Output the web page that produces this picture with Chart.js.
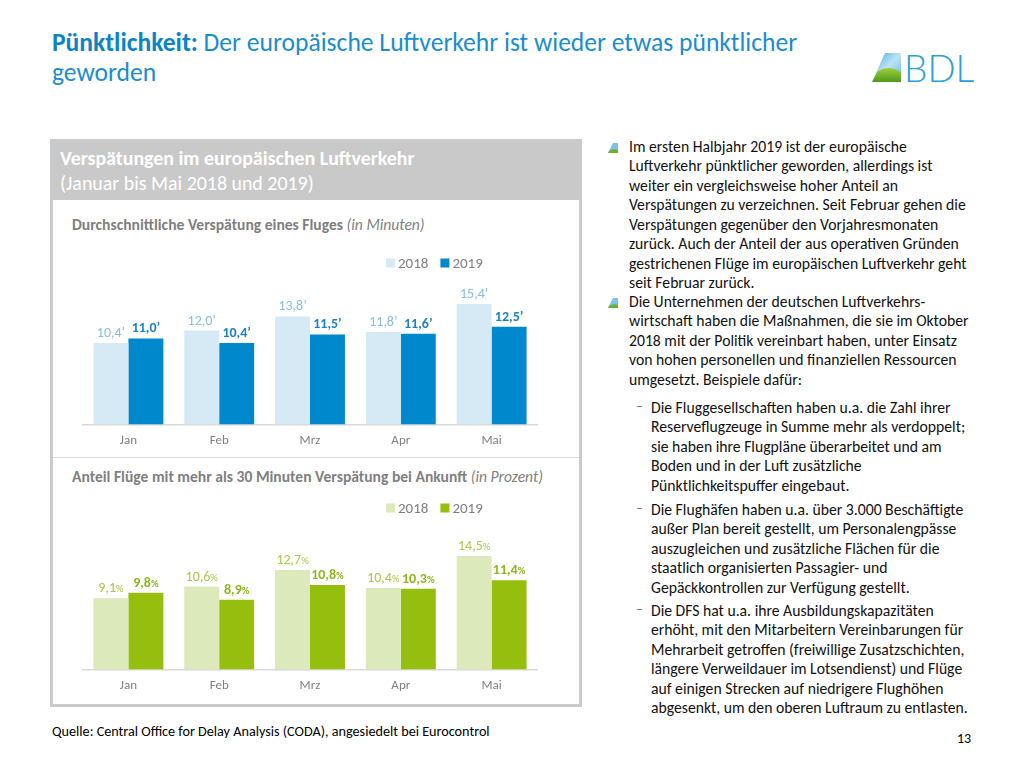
<!DOCTYPE html>
<html lang="de">
<head>
<meta charset="utf-8">
<title>Pünktlichkeit</title>
<script src="https://cdn.jsdelivr.net/npm/chart.js@4/dist/chart.umd.min.js"></script>
<style>
    body { margin: 0; background: #fff; }
    #seite { position: relative; width: 1024px; height: 768px; overflow: hidden; font-family: Carlito, Calibri, Lato, "Open Sans", sans-serif; }
    .abs { position: absolute; }
    #titel { left: 52px; top: 28px; font-size: 25.6px; line-height: 30px; color: #1a8dcf; white-space: nowrap; }
    #titel b { color: #0b84c6; }
    #logo { left: 868px; top: 44px; }
    #box { left: 50px; top: 139px; width: 526px; height: 562px; border: 3px solid #cacaca; background: #fff; }
    #kopf { left: 0; top: 0; width: 526px; height: 58px; background: #c9c9c9; color: #fff; font-size: 19.9px; line-height: 25px; padding: 4px 0 0 7px; box-sizing: border-box; white-space: nowrap; }
    #trenn { left: 0; top: 315px; width: 526px; height: 1px; background: #d9d9d9; }
    .ctitel { font-size: 15.6px; color: #7f7f7f; font-weight: bold; white-space: nowrap; }
    .ctitel i { font-weight: normal; }
    canvas { position: absolute; }
    .text { left: 629px; font-size: 15.7px; line-height: 19.45px; color: #111; white-space: nowrap; }
    .sub { left: 651px; }
    .icon { left: 607px; }
    .strich { left: 636px; color: #6f6f6f; font-size: 14px; }
    #quelle { left: 52px; top: 722px; font-size: 14.2px; color: #000; white-space: nowrap; }
    #nr { left: 957px; top: 730px; font-size: 14px; color: #000; }
</style>
</head>
<body>
<div id="seite">

    <div id="titel" class="abs"><b>Pünktlichkeit:</b> Der europäische Luftverkehr ist wieder etwas pünktlicher<br>geworden</div>

    <svg id="logo" class="abs" width="110" height="44" viewBox="0 0 110 44">
        <defs>
            <linearGradient id="himmel" x1="0" y1="0" x2="1" y2="1">
                <stop offset="0" stop-color="#3aa6de"/>
                <stop offset="0.5" stop-color="#bfe2f4"/>
                <stop offset="1" stop-color="#5ab8e6"/>
            </linearGradient>
            <linearGradient id="wiese" x1="0" y1="0" x2="0" y2="1">
                <stop offset="0" stop-color="#9fcf3a"/>
                <stop offset="1" stop-color="#4f9a1e"/>
            </linearGradient>
        </defs>
        <polygon points="17,9 33,9 33,38 4,38" fill="url(#himmel)"/>
        <path d="M9,28 Q20,20 33,28 L33,38 L4,38 Z" fill="url(#wiese)"/>
        <text x="36" y="38" font-family="Lato, 'Open Sans', sans-serif" font-weight="300" font-size="37" fill="#2a9fd8">BDL</text>
    </svg>

    <div id="box" class="abs">
        <div id="kopf" class="abs"><b>Verspätungen im europäischen Luftverkehr</b><br>(Januar bis Mai 2018 und 2019)</div>
        <div class="abs ctitel" style="left:19px; top:73px;">Durchschnittliche Verspätung eines Fluges <i>(in Minuten)</i></div>
        <div id="trenn" class="abs"></div>
        <div class="abs ctitel" style="left:19px; top:325px;">Anteil Flüge mit mehr als 30 Minuten Verspätung bei Ankunft <i>(in Prozent)</i></div>
    </div>

    <canvas id="chartMinuten" width="474" height="208" style="left:73px; top:250px; width:474px; height:208px;"></canvas>
    <canvas id="chartProzent" width="474" height="208" style="left:73px; top:495px; width:474px; height:208px;"></canvas>

    <svg class="abs icon" style="top:142px" width="12" height="12" viewBox="0 0 12 12"><polygon points="6,1 11,1 11,11 1,11" fill="#7cc3ea"/><path d="M2,9 Q6,6 11,8 L11,11 L1,11 Z" fill="#6fae2a"/></svg>
    <div class="abs text" style="top:137px;">Im ersten Halbjahr 2019 ist der europäische<br>Luftverkehr pünktlicher geworden, allerdings ist<br>weiter ein vergleichsweise hoher Anteil an<br>Verspätungen zu verzeichnen. Seit Februar gehen die<br>Verspätungen gegenüber den Vorjahresmonaten<br>zurück. Auch der Anteil der aus operativen Gründen<br>gestrichenen Flüge im europäischen Luftverkehr geht<br>seit Februar zurück.</div>

    <svg class="abs icon" style="top:297px" width="12" height="12" viewBox="0 0 12 12"><polygon points="6,1 11,1 11,11 1,11" fill="#7cc3ea"/><path d="M2,9 Q6,6 11,8 L11,11 L1,11 Z" fill="#6fae2a"/></svg>
    <div class="abs text" style="top:292px;">Die Unternehmen der deutschen Luftverkehrs-<br>wirtschaft haben die Maßnahmen, die sie im Oktober<br>2018 mit der Politik vereinbart haben, unter Einsatz<br>von hohen personellen und finanziellen Ressourcen<br>umgesetzt. Beispiele dafür:</div>

    <div class="abs strich" style="top:398px;">–</div>
    <div class="abs text sub" style="top:398px;">Die Fluggesellschaften haben u.a. die Zahl ihrer<br>Reserveflugzeuge in Summe mehr als verdoppelt;<br>sie haben ihre Flugpläne überarbeitet und am<br>Boden und in der Luft zusätzliche<br>Pünktlichkeitspuffer eingebaut.</div>

    <div class="abs strich" style="top:500px;">–</div>
    <div class="abs text sub" style="top:500px;">Die Flughäfen haben u.a. über 3.000 Beschäftigte<br>außer Plan bereit gestellt, um Personalengpässe<br>auszugleichen und zusätzliche Flächen für die<br>staatlich organisierten Passagier- und<br>Gepäckkontrollen zur Verfügung gestellt.</div>

    <div class="abs strich" style="top:601px;">–</div>
    <div class="abs text sub" style="top:601px;">Die DFS hat u.a. ihre Ausbildungskapazitäten<br>erhöht, mit den Mitarbeitern Vereinbarungen für<br>Mehrarbeit getroffen (freiwillige Zusatzschichten,<br>längere Verweildauer im Lotsendienst) und Flüge<br>auf einigen Strecken auf niedrigere Flughöhen<br>abgesenkt, um den oberen Luftraum zu entlasten.</div>

    <div id="quelle" class="abs">Quelle: Central Office for Delay Analysis (CODA), angesiedelt bei Eurocontrol</div>
    <div id="nr" class="abs">13</div>
</div>

<script>
const FONT = "Carlito, Calibri, Lato, 'Open Sans', sans-serif"

const monate = ['Jan', 'Feb', 'Mrz', 'Apr', 'Mai']
const jahre = ['2018', '2019']

// Durchschnittliche Verspätung (Minuten)
const minuten2018 = [10.4, 12.0, 13.8, 11.8, 15.4]
const minuten2019 = [11.0, 10.4, 11.5, 11.6, 12.5]

// Anteil Flüge > 30 min Verspätung (Prozent)
const prozent2018 = [9.1, 10.6, 12.7, 10.4, 14.5]
const prozent2019 = [9.8, 8.9, 10.8, 10.3, 11.4]

const yMax = 20

const zahl = (v) => v.toFixed(1).replace('.', ',')

// Werte über den Balken, Einheit etwas kleiner
const wertLabels = {
    id: 'wertLabels',
    afterDatasetsDraw(chart, args, opts) {
        const ctx = chart.ctx
        ctx.save()
        chart.data.datasets.forEach((ds, i) => {
            const meta = chart.getDatasetMeta(i)
            meta.data.forEach((bar, j) => {
                const haupt = zahl(ds.data[j])
                const fontA = `${ds.labelBold ? '600' : 'normal'} ${opts.size}px ${FONT}`
                const fontB = `${ds.labelBold ? '600' : 'normal'} ${opts.suffixSize}px ${FONT}`
                ctx.font = fontA
                const wA = ctx.measureText(haupt).width
                ctx.font = fontB
                const wB = ctx.measureText(opts.suffix).width
                const x0 = bar.x - (wA + wB) / 2
                const y = bar.y - 6
                ctx.fillStyle = ds.labelColor
                ctx.textBaseline = 'alphabetic'
                ctx.textAlign = 'left'
                ctx.font = fontA
                ctx.fillText(haupt, x0, y)
                ctx.font = fontB
                ctx.fillText(opts.suffix, x0 + wA, y)
            })
        })
        ctx.restore()
    }
}

// kleine Legende oben rechts
const kastenLegende = {
    id: 'kastenLegende',
    afterDraw(chart, args, opts) {
        const ctx = chart.ctx
        const area = chart.chartArea
        let x = area.right - opts.offsetRight
        const y = area.top - opts.offsetTop
        ctx.save()
        ctx.font = `15px ${FONT}`
        ctx.textBaseline = 'middle'
        ctx.textAlign = 'left'
        chart.data.datasets.forEach(ds => {
            ctx.fillStyle = ds.backgroundColor
            ctx.fillRect(x, y - 4.5, 9, 9)
            x += 12
            ctx.fillStyle = '#7f7f7f'
            ctx.fillText(ds.label, x, y + 1)
            x += ctx.measureText(ds.label).width + 12
        })
        ctx.restore()
    }
}

const baueChart = (id, werteA, werteB, farben, suffix, suffixSize) => {
    const ctx = document.getElementById(id).getContext('2d')

    new Chart(ctx, {
        type: 'bar',
        data: {
            labels: monate,
            datasets: [{
                label: jahre[0],
                data: werteA,
                backgroundColor: farben[0],
                labelColor: farben[2],
                labelBold: false
            }, {
                label: jahre[1],
                data: werteB,
                backgroundColor: farben[1],
                labelColor: farben[3],
                labelBold: true
            }]
        },
        options: {
            responsive: false,
            animation: false,
            layout: { padding: { top: 18, left: 10, right: 10, bottom: 0 } },
            datasets: { bar: { barPercentage: 1, categoryPercentage: 0.77 } },
            plugins: {
                legend: { display: false },
                tooltip: { enabled: false },
                wertLabels: { size: 14, suffix: suffix, suffixSize: suffixSize },
                kastenLegende: { offsetRight: 151, offsetTop: 5 }
            },
            scales: {
                x: {
                    grid: { display: false, drawTicks: false },
                    border: { display: true, color: '#d9d9d9', width: 1.5 },
                    ticks: { color: '#808080', font: { family: FONT, size: 13 }, padding: 9 }
                },
                y: { display: false, min: 0, max: yMax }
            }
        },
        plugins: [wertLabels, kastenLegende]
    })
}

document.addEventListener("DOMContentLoaded", () => {
    baueChart('chartMinuten', minuten2018, minuten2019,
        ['#d6eaf6', '#0088cd', '#86bde2', '#1a82c4'], '\u2019', 14)
    baueChart('chartProzent', prozent2018, prozent2019,
        ['#dce9bb', '#96be0e', '#a9c84a', '#8cb71c'], '%', 10.5)
})
</script>
</body>
</html>
